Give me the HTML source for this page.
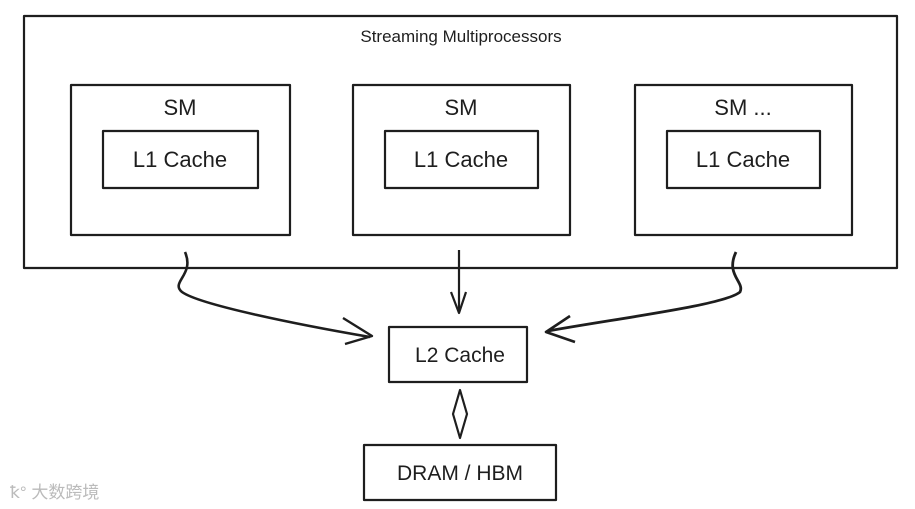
<!DOCTYPE html>
<html><head><meta charset="utf-8"><style>
body{margin:0;background:#fff;width:915px;height:509px;overflow:hidden}
svg{display:block}
text{font-family:"Liberation Sans","Noto Sans CJK SC",sans-serif;fill:#1e1e1e}
</style></head><body>
<svg width="915" height="509" viewBox="0 0 915 509">
<g fill="none" stroke="#1e1e1e" stroke-width="2.2" stroke-linejoin="round">
<rect x="24" y="16" width="873" height="252"/>
<rect x="71" y="85" width="219" height="150"/>
<rect x="353" y="85" width="217" height="150"/>
<rect x="635" y="85" width="217" height="150"/>
<rect x="103" y="131" width="155" height="57"/>
<rect x="385" y="131" width="153" height="57"/>
<rect x="667" y="131" width="153" height="57"/>
<rect x="389" y="327" width="138" height="55"/>
<rect x="364" y="445" width="192" height="55"/>
<path d="M185 252 C 195 275, 170 282, 182 292 C 200 305, 300 325, 370 337" stroke-width="2.6"/>
<path d="M343 318 L372 336 L345 344" stroke-width="2.4"/>
<path d="M459 250 L459 312"/>
<path d="M451 292 L459 313 L466 292"/>
<path d="M736 252 C 725 275, 745 282, 740 292 C 725 305, 620 318, 548 331" stroke-width="2.8"/>
<path d="M570 316 L546 332 L575 342" stroke-width="2.6"/>
<path d="M460 390 L467 414 L460 438 L453 414 Z"/>
</g>
<text x="461" y="42" font-size="17" text-anchor="middle">Streaming Multiprocessors</text>
<text x="180" y="115" font-size="22" text-anchor="middle">SM</text>
<text x="461" y="115" font-size="22" text-anchor="middle">SM</text>
<text x="743" y="115" font-size="22" text-anchor="middle">SM ...</text>
<text x="180" y="167" font-size="22" text-anchor="middle">L1 Cache</text>
<text x="461" y="167" font-size="22" text-anchor="middle">L1 Cache</text>
<text x="743" y="167" font-size="22" text-anchor="middle">L1 Cache</text>
<text x="460" y="362" font-size="21" text-anchor="middle">L2 Cache</text>
<text x="460" y="480" font-size="21" text-anchor="middle">DRAM / HBM</text>
<text x="10" y="498" font-size="17" style="fill:#bbb">ꝁ° 大数跨境</text>
</svg>
</body></html>
